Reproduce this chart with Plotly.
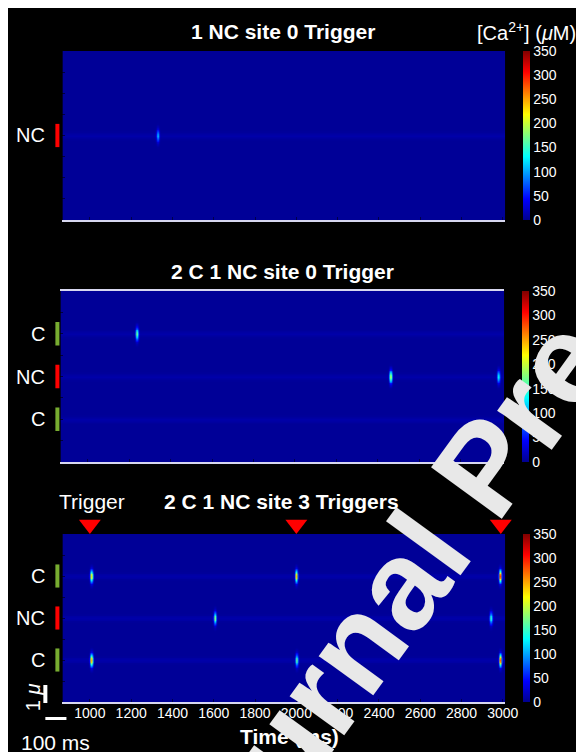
import numpy as np
import plotly.graph_objects as go

# ---------------- data ----------------
time_range = [867, 3011]          # ms
space_range = [8, 0]              # µm (reversed: 0 at top)
x_tick_vals = [1000, 1200, 1400, 1600, 1800, 2000, 2200, 2400, 2600, 2800, 3000]
cbar_tick_vals = [0, 50, 100, 150, 200, 250, 300, 350]
ca_min, ca_max = 0, 350

panel_titles = ["1 NC site 0 Trigger", "2 C 1 NC site 0 Trigger", "2 C 1 NC site 3 Triggers"]

p1_site_labels = ["NC"]
p1_site_pos = [4.0]
p2_site_labels = ["C", "NC", "C"]
p2_site_pos = [2.0, 4.0, 6.0]
p3_site_labels = ["C", "NC", "C"]
p3_site_pos = [2.0, 4.0, 6.0]

# release events: site index, time (ms), peak [Ca2+] (µM)
p1_event_site = [0]
p1_event_time = [1329]
p1_event_peak = [110]

p2_event_site = [0, 1, 1]
p2_event_time = [1237, 2463, 2984]
p2_event_peak = [190, 200, 130]

p3_event_site = [0, 0, 0, 0, 1, 1, 2, 2, 2]
p3_event_time = [1008, 2000, 2559, 2987, 1606, 2943, 1008, 2002, 2988]
p3_event_peak = [230, 250, 210, 300, 180, 160, 260, 170, 290]

trigger_times = [1000, 2000, 2990]

resting_ca = 3        # µM background
site_baseline = 7     # µM faint level along each site row

# ---------------- styling helpers ----------------
FONT = "Arial, Liberation Sans, sans-serif"
OFF = 8                 # white page border kept on the left and top (as in the reference)
KX = 576 / 561          # horizontal calibration of the viewer (measured)
W, H = round(576 * KX) - OFF, 752 - OFF


def PX(x):
    return (x * KX - OFF) / W


def PY(y):
    return 1 - (y - OFF) / H


site_color = {"C": "rgb(119,172,48)", "NC": "rgb(255,0,0)"}

jet = [[0.0, "rgb(0,0,143)"], [0.125, "rgb(0,0,255)"], [0.375, "rgb(0,255,255)"],
       [0.625, "rgb(255,255,0)"], [0.875, "rgb(255,0,0)"], [1.0, "rgb(128,0,0)"]]

t_grid = np.arange(time_range[0], time_range[1] + 1, 2.0)
y_grid = np.arange(0, 8.001, 0.08)
T, Y = np.meshgrid(t_grid, y_grid)
SIG_T, SIG_Y = 4.5, 0.2


def build_field(site_pos, ev_site, ev_time, ev_peak):
    z = np.full(T.shape, float(resting_ca))
    for s in site_pos:
        z += site_baseline * np.exp(-0.5 * ((Y - s) / 0.09) ** 2)
    for si, t0, pk in zip(ev_site, ev_time, ev_peak):
        z += pk * np.exp(-0.5 * ((T - t0) / SIG_T) ** 2 - 0.5 * ((Y - site_pos[si]) / SIG_Y) ** 2)
    return np.clip(z, ca_min, ca_max).astype(np.float32)


# screen-pixel geometry of each panel
panels = [
    dict(sites=p1_site_pos, labels=p1_site_labels, es=p1_event_site, et=p1_event_time, ep=p1_event_peak,
         px=(62, 503), py=(51, 220), cbx=521, title_xy=(282, 32)),
    dict(sites=p2_site_pos, labels=p2_site_labels, es=p2_event_site, et=p2_event_time, ep=p2_event_peak,
         px=(60, 502), py=(291, 462), cbx=520, title_xy=(281, 271)),
    dict(sites=p3_site_pos, labels=p3_site_labels, es=p3_event_site, et=p3_event_time, ep=p3_event_peak,
         px=(62, 503), py=(534, 702), cbx=521, title_xy=(280, 501)),
]

fig = go.Figure()
annotations = []
shapes = []

for i, p in enumerate(panels):
    n = i + 1
    xa = "x" if n == 1 else f"x{n}"
    ya = "y" if n == 1 else f"y{n}"
    z = build_field(p["sites"], p["es"], p["et"], p["ep"])
    top, bot = p["py"]
    fig.add_trace(go.Heatmap(
        x=t_grid, y=y_grid, z=z, xaxis=xa, yaxis=ya,
        colorscale=jet, zmin=ca_min, zmax=ca_max, zsmooth="best",
        colorbar=dict(x=PX(p["cbx"]), xanchor="left", xpad=0, ypad=0,
                      y=PY((top + bot) / 2), yanchor="middle",
                      len=(bot - top) / H, lenmode="fraction",
                      thickness=7, thicknessmode="pixels", outlinewidth=0,
                      tickvals=cbar_tick_vals, ticks="",
                      tickfont=dict(color="white", size=14, family=FONT)),
        hoverinfo="skip"))
    dom_x = [PX(p["px"][0]), PX(p["px"][1])]
    dom_y = [PY(bot), PY(top)]
    line_col = "rgb(215,215,240)"
    xaxis = dict(domain=dom_x, range=time_range, anchor=ya, showgrid=False, zeroline=False,
                 tickvals=x_tick_vals, ticks="inside", ticklen=3, tickcolor="rgba(0,0,0,0.5)",
                 showline=True, linecolor=line_col, linewidth=2, mirror=(n == 2),
                 showticklabels=(n == 3), ticklabelstandoff=-3,
                 tickfont=dict(color="white", size=14, family=FONT))
    yaxis = dict(domain=dom_y, range=space_range, anchor=xa, showgrid=False, zeroline=False,
                 showticklabels=False, dtick=1, ticks="inside", ticklen=3,
                 tickcolor="rgba(0,0,0,0.6)", showline=False)
    fig.layout[("xaxis" if n == 1 else f"xaxis{n}")] = xaxis
    fig.layout[("yaxis" if n == 1 else f"yaxis{n}")] = yaxis

    tx, ty = p["title_xy"]
    annotations.append(dict(text=panel_titles[i], x=PX(tx), y=PY(ty), xref="paper", yref="paper",
                            showarrow=False, xanchor="center", yanchor="middle",
                            font=dict(color="white", size=21, family=FONT, weight="bold")))
    for lab, s in zip(p["labels"], p["sites"]):
        annotations.append(dict(text=lab, x=PX(47), y=s, xref="paper", yref=ya, showarrow=False,
                                xanchor="right", yanchor="middle",
                                font=dict(color="white", size=20, family=FONT)))
        shapes.append(dict(type="rect", xref="paper", yref=ya, x0=PX(55), x1=PX(59),
                           y0=s - 0.55, y1=s + 0.55, fillcolor=site_color[lab], line_width=0))

# trigger markers on a thin strip above the last panel (same time axis)
fig.layout["xaxis4"] = dict(domain=[PX(62), PX(503)], range=time_range, anchor="y4", visible=False)
fig.layout["yaxis4"] = dict(domain=[PY(534), PY(512)], range=[0, 1], anchor="x4", visible=False)
fig.add_trace(go.Scatter(x=trigger_times, y=[0.43] * len(trigger_times), xaxis="x4", yaxis="y4",
                         mode="markers", cliponaxis=False, hoverinfo="skip", showlegend=False,
                         marker=dict(symbol="triangle-down", size=19, color="red", line_width=0)))

annotations += [
    dict(text="[Ca<sup>2+</sup>] (<i>μ</i>M)", x=PX(576), y=PY(32), xref="paper", yref="paper",
         showarrow=False, xanchor="right", yanchor="middle",
         font=dict(color="white", size=20, family=FONT)),
    dict(text="Trigger", x=PX(91), y=PY(501), xref="paper", yref="paper", showarrow=False,
         xanchor="center", yanchor="middle", font=dict(color="white", size=21, family=FONT)),
    dict(text="Time (ms)", x=PX(288), y=PY(736), xref="paper", yref="paper", showarrow=False,
         xanchor="center", yanchor="middle",
         font=dict(color="white", size=21, family=FONT, weight="bold")),
    dict(text="1 <i>μ</i>", x=PX(33), y=PY(697), xref="paper", yref="paper", showarrow=False,
         textangle=-90, xanchor="center", yanchor="middle",
         font=dict(color="white", size=20, family=FONT)),
    dict(text="100 ms", x=PX(55), y=PY(742), xref="paper", yref="paper", showarrow=False,
         xanchor="center", yanchor="middle", font=dict(color="white", size=21, family=FONT)),
    dict(text="Journal Pre-proof", x=PX(482), y=PY(468), xref="paper", yref="paper",
         showarrow=False, textangle=-54, xanchor="center", yanchor="middle",
         font=dict(color="rgb(232,232,232)", size=127, family=FONT, weight="bold")),
]

# scale bars
shapes += [
    dict(type="rect", xref="paper", yref="paper", x0=PX(43), x1=PX(47), y0=PY(703), y1=PY(685),
         fillcolor="white", line_width=0),
    dict(type="rect", xref="paper", yref="paper", x0=PX(45), x1=PX(66), y0=PY(720), y1=PY(717),
         fillcolor="white", line_width=0),
]

fig.update_layout(width=W, height=H, autosize=False, margin=dict(l=0, r=0, t=0, b=0),
                  paper_bgcolor="black", plot_bgcolor="black", showlegend=False,
                  annotations=annotations, shapes=shapes)

# fixed-size figure; keep the 8px white page border only on the left and top
fig.write_html("out.html", config={"responsive": False}, default_width=f"{W}px",
               default_height=f"{H}px",
               post_script="document.body.style.margin='8px 0 0 8px';"
                           "document.body.style.overflow='hidden';")
